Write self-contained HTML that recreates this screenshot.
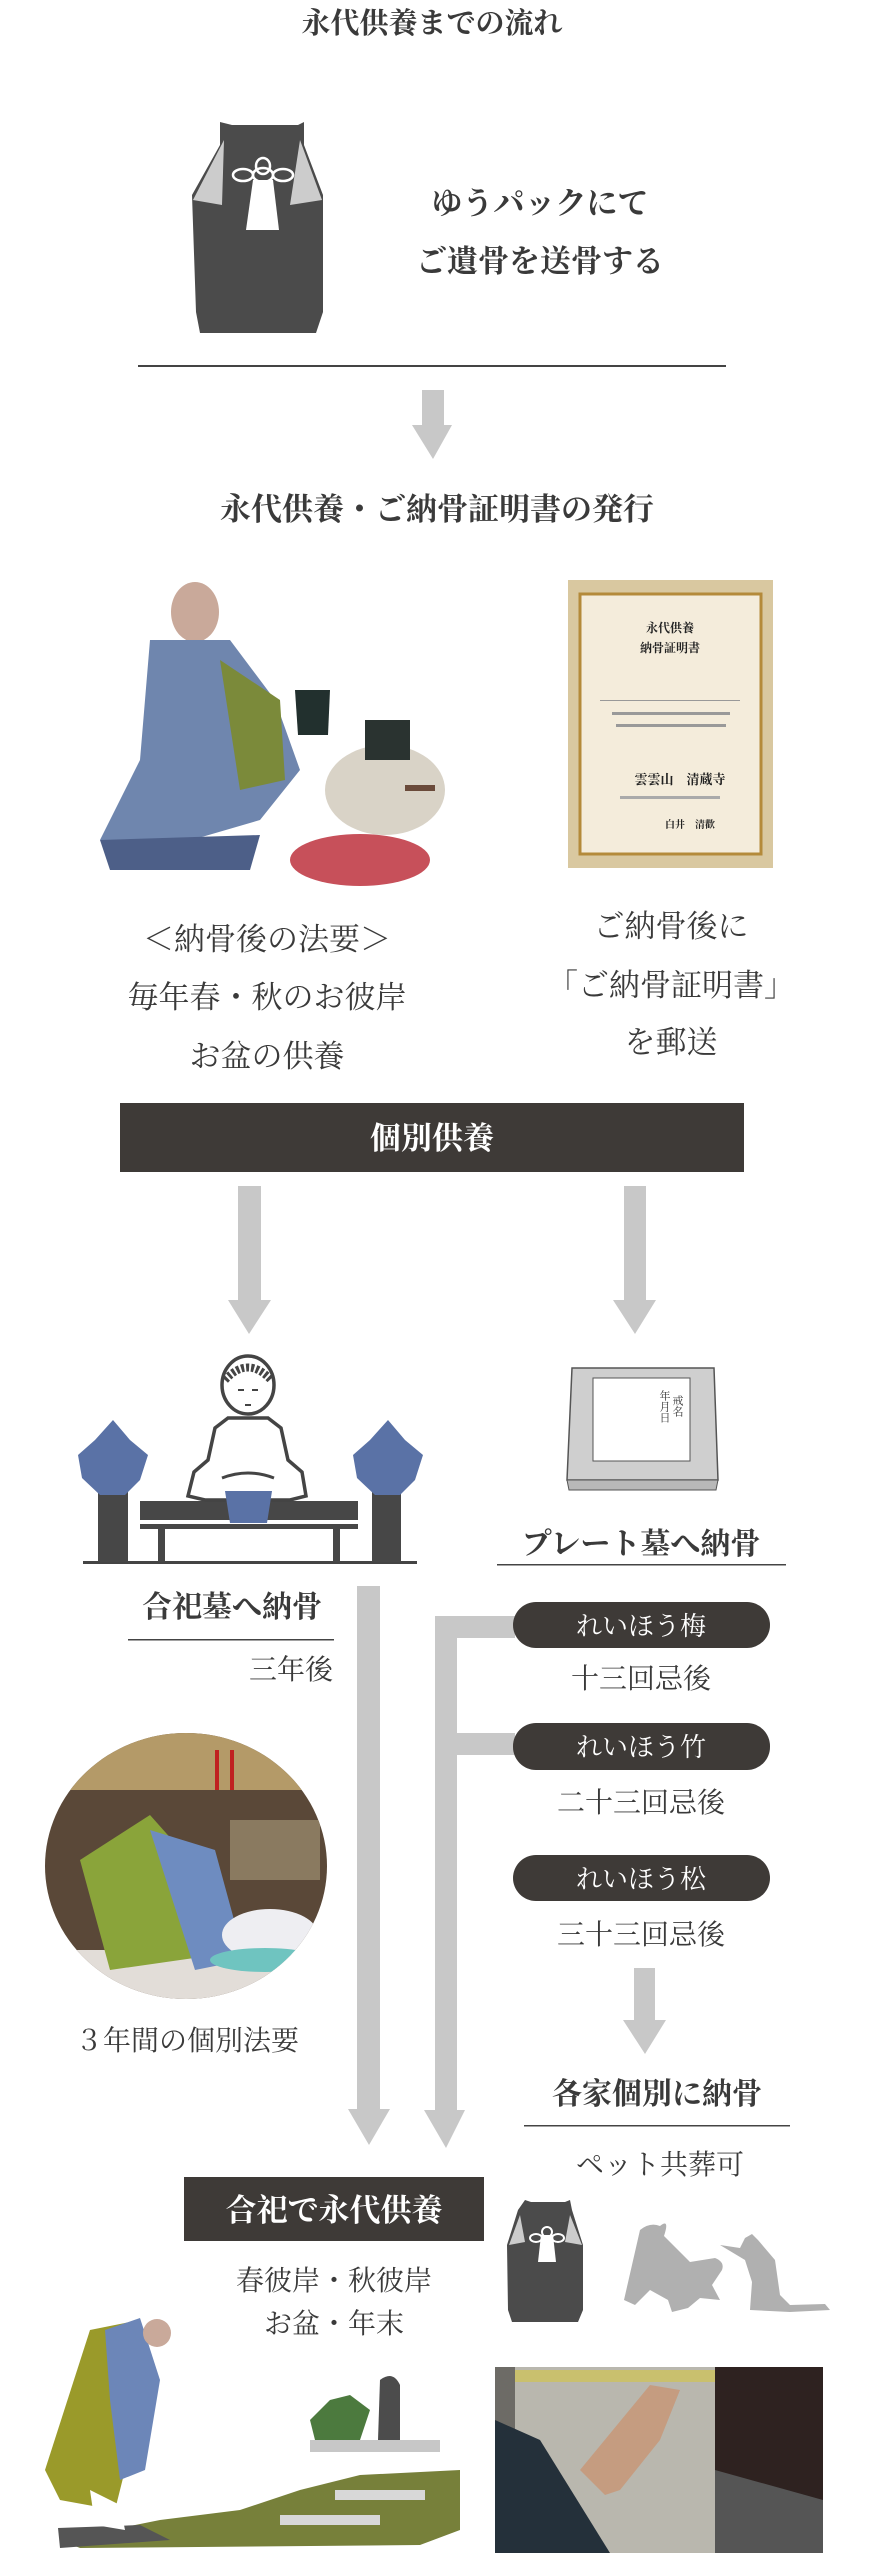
<!DOCTYPE html>
<html><head><meta charset="utf-8"><style>
html,body{margin:0;padding:0;background:#fff;}
svg{display:block}
text{font-family:"Liberation Serif","Noto Serif CJK SC","Noto Serif CJK JP",serif;fill:#3a3a3a;}
.b{font-weight:bold}
.w{fill:#fff}
</style></head><body>
<svg width="869" height="2560" viewBox="0 0 869 2560" xmlns="http://www.w3.org/2000/svg">

<text x="432" y="33" font-size="29" text-anchor="middle" class="b">永代供養までの流れ</text>

<!-- urn 1 -->
<g>
<path d="M220,122 L232,125 L298,125 L304,122 L304,145 L323,195 L323,312 L316,333 L200,333 L196,312 L192,195 L220,145 Z" fill="#4b4b4b"/>
<path d="M224,140 L193,200 L222,205 Z" fill="#ccc"/>
<path d="M300,140 L322,200 L290,205 Z" fill="#ccc"/>
<path d="M253,180 L273,180 L279,230 L246,230 Z" fill="#fff"/>
<g fill="none" stroke="#fff" stroke-width="2.5"><ellipse cx="243" cy="175" rx="10" ry="6"/><ellipse cx="283" cy="175" rx="10" ry="6"/><ellipse cx="263" cy="175" rx="10" ry="7"/><ellipse cx="263" cy="166" rx="7" ry="8"/></g>
</g>
<text x="540" y="214" font-size="31" text-anchor="middle" class="b">ゆうパックにて</text>
<text x="540" y="272" font-size="31" text-anchor="middle" class="b">ご遺骨を送骨する</text>
<rect x="138" y="365" width="588" height="2" fill="#444"/>
<path d="M422,390 L444,390 L444,425 L452,425 L433,459 L412,425 L422,425 Z" fill="#c8c8c8"/>
<text x="437" y="520" font-size="31" text-anchor="middle" class="b">永代供養・ご納骨証明書の発行</text>

<!-- monk photo -->
<g>
<ellipse cx="195" cy="612" rx="24" ry="30" fill="#c9a99a"/>
<path d="M150,640 L230,640 L275,700 L300,770 L260,820 L140,855 L100,840 L140,760 Z" fill="#6f86ae"/>
<path d="M220,660 L280,700 L285,780 L240,790 Z" fill="#7b8a3a"/>
<path d="M100,840 L260,835 L250,870 L110,870 Z" fill="#4d5f88"/>
<path d="M295,690 L330,690 L328,735 L298,735 Z" fill="#22302e"/>
<ellipse cx="385" cy="790" rx="60" ry="45" fill="#d9d3c7"/>
<ellipse cx="360" cy="860" rx="70" ry="26" fill="#c7505a"/>
<path d="M365,720 L410,720 L410,760 L365,760 Z" fill="#2a3330"/>
<rect x="405" y="785" width="30" height="6" fill="#6a4a3a"/>
</g>

<!-- certificate -->
<rect x="568" y="580" width="205" height="288" fill="#d9c8a0"/>
<rect x="580" y="594" width="181" height="260" fill="#f4ecdb" stroke="#b48a3a" stroke-width="3"/>
<text x="670" y="632" font-size="12" text-anchor="middle" class="b" style="fill:#222">永代供養</text>
<text x="670" y="652" font-size="12" text-anchor="middle" class="b" style="fill:#222">納骨証明書</text>
<rect x="600" y="700" width="140" height="1" fill="#999"/>
<rect x="612" y="712" width="118" height="3" fill="#999"/>
<rect x="616" y="724" width="110" height="3" fill="#999"/>
<text x="680" y="784" font-size="13" text-anchor="middle" class="b" style="fill:#222">雲雲山　清蔵寺</text>
<rect x="620" y="796" width="100" height="3" fill="#aaa"/>
<text x="690" y="828" font-size="10" text-anchor="middle" class="b" style="fill:#222">白井　清歡</text>

<text x="267" y="950" font-size="31" text-anchor="middle">＜納骨後の法要＞</text>
<text x="267" y="1008" font-size="31" text-anchor="middle">毎年春・秋のお彼岸</text>
<text x="267" y="1067" font-size="31" text-anchor="middle">お盆の供養</text>
<text x="671" y="937" font-size="31" text-anchor="middle">ご納骨後に</text>
<text x="671" y="996" font-size="31" text-anchor="middle">「ご納骨証明書」</text>
<text x="671" y="1053" font-size="31" text-anchor="middle">を郵送</text>

<rect x="120" y="1103" width="624" height="69" fill="#3e3a37"/>
<text x="432" y="1149" font-size="31" text-anchor="middle" class="b w">個別供養</text>

<path d="M238,1186 L261,1186 L261,1300 L271,1300 L249,1334 L228,1300 L238,1300 Z" fill="#c8c8c8"/>
<path d="M624,1186 L646,1186 L646,1300 L656,1300 L635,1334 L613,1300 L624,1300 Z" fill="#c8c8c8"/>

<!-- buddha -->
<g>
<rect x="83" y="1561" width="334" height="3" fill="#444"/>
<rect x="140" y="1501" width="218" height="19" fill="#474747"/>
<rect x="140" y="1524" width="218" height="5" fill="#474747"/>
<rect x="158" y="1524" width="7" height="38" fill="#474747"/>
<rect x="333" y="1524" width="7" height="38" fill="#474747"/>
<rect x="98" y="1487" width="30" height="75" fill="#474747"/>
<rect x="372" y="1487" width="29" height="75" fill="#474747"/>
<path d="M113,1420 L130,1440 L148,1455 L140,1480 L125,1495 L100,1495 L82,1478 L78,1455 L95,1440 Z" fill="#5a72a6"/>
<path d="M388,1420 L405,1440 L423,1455 L415,1480 L400,1495 L375,1495 L357,1478 L353,1455 L370,1440 Z" fill="#5a72a6"/>
<path d="M228,1418 L215,1428 L208,1460 L194,1472 L188,1496 L205,1500 L290,1500 L306,1496 L302,1472 L288,1460 L281,1428 L268,1418 Z" fill="#fff" stroke="#444" stroke-width="3.5"/>
<path d="M222,1478 Q248,1468 274,1478" fill="none" stroke="#444" stroke-width="3"/>
<ellipse cx="248" cy="1385" rx="26" ry="29" fill="#fff" stroke="#444" stroke-width="3.5"/>
<path d="M225,1380 Q248,1355 271,1380" fill="none" stroke="#444" stroke-width="8" stroke-dasharray="3 2"/>
<path d="M238,1390 L244,1390 M252,1390 L258,1390 M245,1405 L251,1405" stroke="#444" stroke-width="2"/>
<path d="M225,1491 L272,1491 L267,1523 L230,1523 Z" fill="#5a72a6"/>
</g>

<!-- plate -->
<path d="M572,1368 L714,1368 L718,1480 L567,1480 Z" fill="#cfcfcf" stroke="#555" stroke-width="1.5"/>
<path d="M567,1480 L718,1480 L716,1490 L569,1490 Z" fill="#b8b8b8" stroke="#555" stroke-width="1"/>
<rect x="593" y="1378" width="97" height="83" fill="#fff" stroke="#555" stroke-width="1"/>
<text x="677" y="1395" font-size="11" style="writing-mode:tb;fill:#333" font-family="Liberation Sans,Noto Sans CJK JP,sans-serif">戒名</text>
<text x="664" y="1390" font-size="11" style="writing-mode:tb;fill:#333" font-family="Liberation Sans,Noto Sans CJK JP,sans-serif">年月日</text>

<text x="641" y="1554" font-size="30" text-anchor="middle" class="b">プレート墓へ納骨</text>
<rect x="497" y="1564" width="289" height="1.5" fill="#444"/>
<text x="232" y="1617" font-size="30" text-anchor="middle" class="b">合祀墓へ納骨</text>
<rect x="128" y="1639" width="206" height="1.5" fill="#444"/>
<text x="333" y="1679" font-size="28" text-anchor="end">三年後</text>

<!-- connectors -->
<path d="M357,1586 L380,1586 L380,2109 L390,2109 L369,2145 L348,2109 L357,2109 Z" fill="#c8c8c8"/>
<path d="M435,1616 L515,1616 L515,1638 L457,1638 L457,1733 L515,1733 L515,1755 L457,1755 L457,2110 L465,2110 L446,2148 L424,2110 L435,2110 Z" fill="#c8c8c8"/>

<rect x="513" y="1602" width="257" height="46" rx="23" fill="#3e3a37"/>
<text x="641" y="1635" font-size="26" text-anchor="middle" class="w">れいほう梅</text>
<text x="641" y="1688" font-size="28" text-anchor="middle">十三回忌後</text>
<rect x="513" y="1723" width="257" height="47" rx="23" fill="#3e3a37"/>
<text x="641" y="1756" font-size="26" text-anchor="middle" class="w">れいほう竹</text>
<text x="641" y="1812" font-size="28" text-anchor="middle">二十三回忌後</text>
<rect x="513" y="1855" width="257" height="46" rx="23" fill="#3e3a37"/>
<text x="641" y="1888" font-size="26" text-anchor="middle" class="w">れいほう松</text>
<text x="641" y="1944" font-size="28" text-anchor="middle">三十三回忌後</text>

<path d="M634,1968 L655,1968 L655,2020 L666,2020 L645,2054 L623,2020 L634,2020 Z" fill="#c8c8c8"/>
<text x="657" y="2104" font-size="30" text-anchor="middle" class="b">各家個別に納骨</text>
<rect x="524" y="2125" width="266" height="1.5" fill="#444"/>
<text x="660" y="2174" font-size="28" text-anchor="middle">ペット共葬可</text>

<!-- circle photo -->
<clipPath id="cc"><ellipse cx="186" cy="1866" rx="141" ry="133"/></clipPath>
<g clip-path="url(#cc)">
<rect x="40" y="1730" width="300" height="270" fill="#5a4838"/>
<rect x="40" y="1730" width="300" height="60" fill="#b49a68"/>
<rect x="230" y="1820" width="90" height="60" fill="#8a7a60"/>
<rect x="40" y="1950" width="300" height="60" fill="#e2ddd8"/>
<path d="M80,1860 L150,1815 L190,1860 L215,1955 L110,1970 Z" fill="#8aa43a"/>
<path d="M150,1830 L215,1850 L245,1960 L195,1970 Z" fill="#6e8cc0"/>
<ellipse cx="270" cy="1935" rx="48" ry="26" fill="#eeeef2"/>
<ellipse cx="265" cy="1960" rx="55" ry="12" fill="#6fc4c0"/>
</g>
<rect x="215" y="1750" width="4" height="40" fill="#c02020"/><rect x="230" y="1750" width="4" height="40" fill="#c02020"/>
<text x="187" y="2050" font-size="28" text-anchor="middle">３年間の個別法要</text>

<rect x="184" y="2177" width="300" height="64" fill="#3e3a37"/>
<text x="334" y="2221" font-size="31" text-anchor="middle" class="b w">合祀で永代供養</text>
<text x="334" y="2290" font-size="28" text-anchor="middle">春彼岸・秋彼岸</text>
<text x="334" y="2333" font-size="28" text-anchor="middle">お盆・年末</text>

<!-- small urn -->
<path d="M525,2200 L531,2202 L565,2202 L570,2200 L572,2210 L583,2245 L583,2310 L578,2322 L512,2322 L508,2310 L507,2245 L518,2210 Z" fill="#4b4b4b"/>
<path d="M520,2215 L509,2245 L525,2242 Z" fill="#ccc"/><path d="M570,2215 L582,2245 L565,2242 Z" fill="#ccc"/>
<path d="M541,2235 L553,2235 L556,2262 L538,2262 Z" fill="#fff"/>
<g fill="none" stroke="#fff" stroke-width="2"><ellipse cx="536" cy="2238" rx="6" ry="4"/><ellipse cx="558" cy="2238" rx="6" ry="4"/><ellipse cx="547" cy="2232" rx="5" ry="5"/></g>

<!-- pets -->
<path d="M640,2230 Q650,2222 660,2226 Q670,2218 664,2236 L690,2262 L715,2258 Q725,2262 722,2270 L712,2285 L720,2300 L700,2298 L688,2308 L672,2312 L668,2300 L650,2290 L635,2305 L624,2300 Z" fill="#b0b0b0"/>
<path d="M720,2245 L740,2248 L745,2238 L752,2234 L758,2240 L775,2260 L780,2295 L790,2305 L825,2304 L830,2310 L790,2312 L750,2310 L752,2282 L745,2260 Z" fill="#b0b0b0"/>

<!-- hands photo -->
<rect x="495" y="2367" width="328" height="186" fill="#6d6b66"/>
<rect x="515" y="2367" width="200" height="186" fill="#b9b7ae"/>
<rect x="515" y="2370" width="200" height="12" fill="#c9c06e"/>
<rect x="715" y="2367" width="108" height="186" fill="#2e2220"/>
<path d="M715,2470 L823,2500 L823,2553 L715,2553 Z" fill="#555"/>
<path d="M495,2420 L540,2440 L610,2553 L495,2553 Z" fill="#24303a"/>
<path d="M580,2470 L650,2385 L680,2390 L660,2440 L620,2490 L605,2495 Z" fill="#c59c80"/>

<!-- bowing monk photo -->
<path d="M60,2540 L160,2520 L240,2510 L300,2490 L360,2475 L460,2470 L460,2530 L420,2545 L80,2548 Z" fill="#77803a"/>
<path d="M58,2528 L140,2525 L170,2540 L60,2548 Z" fill="#555"/>
<path d="M90,2330 L140,2320 L140,2380 L125,2470 L115,2510 L60,2500 L45,2470 Z" fill="#9a9a2a"/>
<path d="M105,2330 L140,2318 L160,2380 L145,2470 L120,2480 L110,2400 Z" fill="#6c86b8"/>
<circle cx="157" cy="2333" r="14" fill="#c9a99a"/>
<path d="M90,2490 L120,2505 L125,2530 L95,2525 Z" fill="#fff"/>
<rect x="310" y="2440" width="130" height="12" fill="#c7c7c7"/>
<path d="M310,2420 L330,2400 L350,2395 L370,2410 L360,2440 L315,2440 Z" fill="#4c7a3e"/>
<path d="M380,2380 Q393,2370 400,2385 L400,2440 L378,2440 Z" fill="#4c4c4c"/>
<rect x="335" y="2490" width="90" height="10" fill="#d8d8d8"/>
<rect x="280" y="2515" width="100" height="10" fill="#d8d8d8"/>
</svg>
</body></html>
